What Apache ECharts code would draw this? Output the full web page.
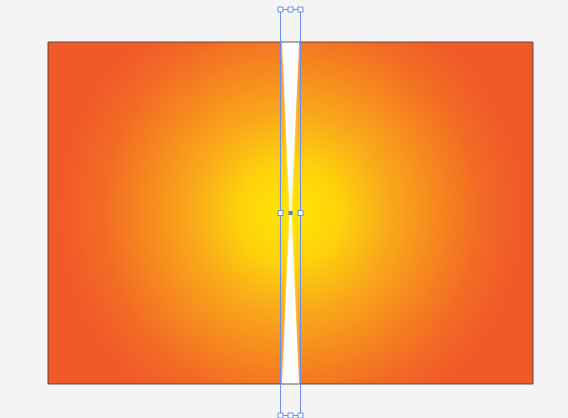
<!DOCTYPE html>
<html>
<head>
<meta charset="utf-8">
<script src="https://cdn.jsdelivr.net/npm/echarts@6/dist/echarts.min.js"></script>
<style>
  html, body { margin: 0; padding: 0; background: #f4f4f4; }
  #main { width: 568px; height: 418px; }
</style>
</head>
<body>
<div id="main"></div>
<script>
// artboard coords (x right, y down)
var panelCorners = [[48, 42], [533, 384]];
var glowCenter = [290.5, 213];
// white hourglass cut: left edge top->bottom then right edge bottom->top
var cutOutline = [[282, 42], [289.7, 213], [282, 384], [299, 384], [291.3, 213], [299, 42]];
// selection bounding box
var boxOutline = [[280.5, 9.5], [300.5, 9.5], [300.5, 415.5], [280.5, 415.5], [280.5, 9.5]];
var boxHandles = [[280.5, 9.5], [290.5, 9.5], [300.5, 9.5], [280.5, 213], [300.5, 213], [280.5, 415.5], [290.5, 415.5], [300.5, 415.5]];
var boxCenter = [[290.5, 213]];

var blue = '#6f8be3';

var chart = echarts.init(document.getElementById('main'));

function panelItem(params, api, withFill) {
  var p0 = api.coord(panelCorners[0]);
  var p1 = api.coord(panelCorners[1]);
  var c = api.coord(glowCenter);
  var style;
  if (withFill) {
    style = {
      fill: new echarts.graphic.RadialGradient(c[0], c[1], 250, [
        { offset: 0, color: '#ffe600' },
        { offset: 0.2, color: '#fdd20c' },
        { offset: 0.4, color: '#f9a81a' },
        { offset: 0.6, color: '#f6851f' },
        { offset: 0.76, color: '#f26a25' },
        { offset: 0.92, color: '#f05a28' },
        { offset: 1, color: '#f05a28' }
      ], true)
    };
  } else {
    style = { fill: null, stroke: 'rgba(70,60,55,0.85)', lineWidth: 1 };
  }
  return {
    type: 'rect',
    shape: { x: p0[0], y: p0[1], width: p1[0] - p0[0], height: p1[1] - p0[1] },
    style: style
  };
}

chart.setOption({
  backgroundColor: '#f4f4f4',
  animation: false,
  grid: { left: 0, right: 0, top: 0, bottom: 0 },
  xAxis: { type: 'value', min: 0, max: 568, show: false },
  yAxis: { type: 'value', min: 0, max: 418, inverse: true, show: false },
  series: [
    {
      type: 'custom',
      data: [0],
      z: 1,
      renderItem: function (params, api) { return panelItem(params, api, true); }
    },
    {
      type: 'custom',
      data: [0],
      z: 2,
      renderItem: function (params, api) {
        var pts = cutOutline.map(function (p) { return api.coord(p); });
        return {
          type: 'polygon',
          shape: { points: pts, smooth: 0 },
          style: { fill: '#ffffff', shadowBlur: 3, shadowColor: 'rgba(255,255,230,0.8)' }
        };
      }
    },
    {
      type: 'custom',
      data: [0],
      z: 3,
      renderItem: function (params, api) { return panelItem(params, api, false); }
    },
    {
      type: 'line',
      data: boxOutline,
      z: 4,
      symbol: 'none',
      lineStyle: { color: blue, width: 1 },
      silent: true
    },
    {
      type: 'scatter',
      data: boxHandles,
      z: 5,
      symbol: 'rect',
      symbolSize: 5,
      itemStyle: { color: '#ffffff', borderColor: blue, borderWidth: 1, opacity: 1 }
    },
    {
      type: 'scatter',
      data: boxCenter,
      z: 5,
      symbol: 'rect',
      symbolSize: 4,
      itemStyle: { color: '#5a78d6', opacity: 1 }
    }
  ]
});
</script>
</body>
</html>
